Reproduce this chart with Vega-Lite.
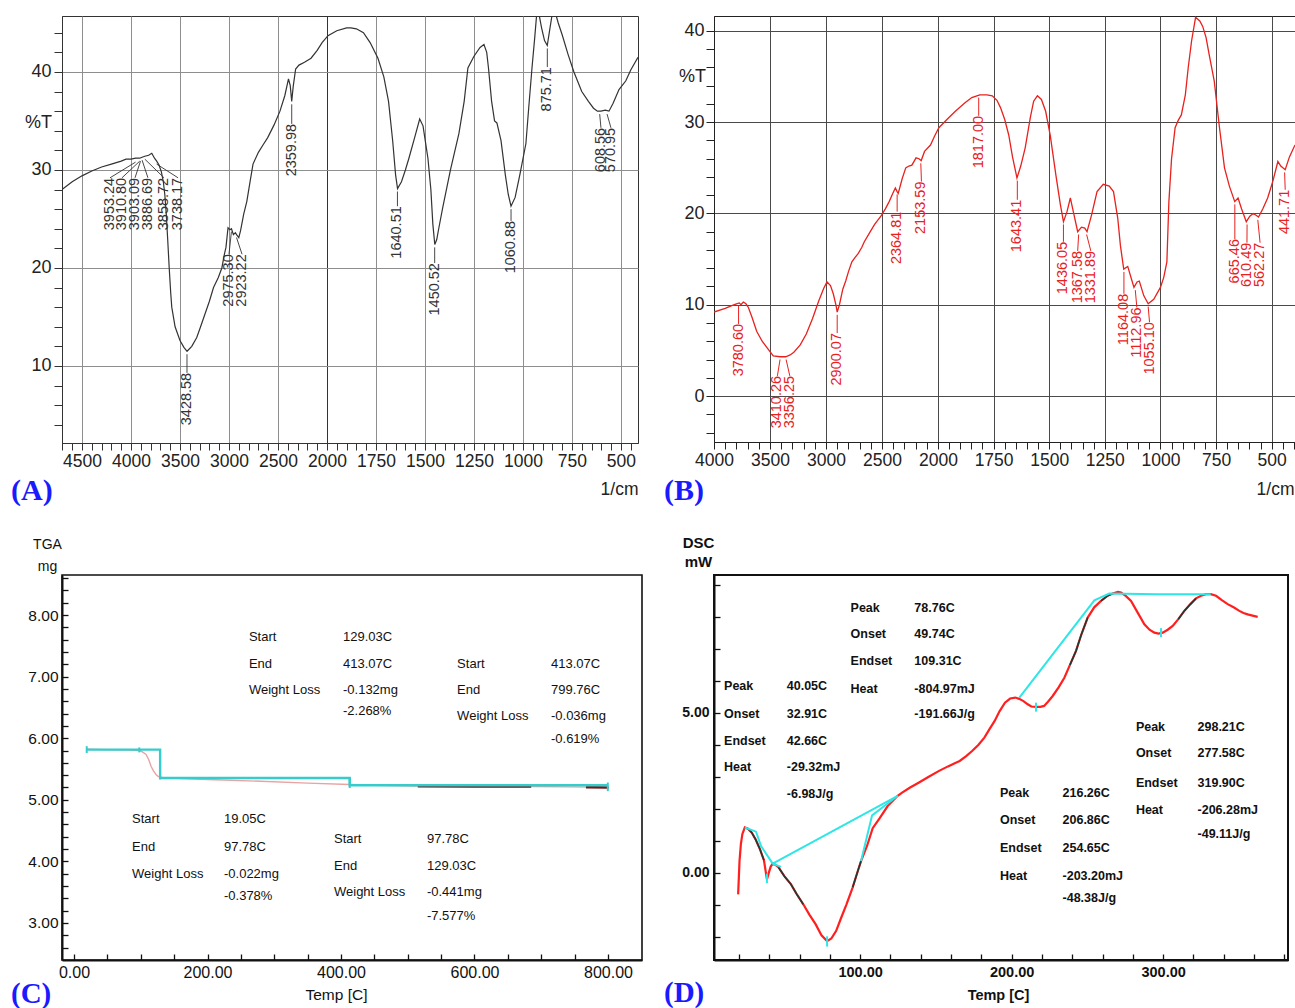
{
"$schema": "https://vega.github.io/schema/vega-lite/v6.json",
"background": "white",
"padding": {"left": 10, "top": 15, "right": 0, "bottom": 0},
"columns": 2,
"spacing": {"row": 132, "column": 72},
"bounds": "flush",
"config": {"view": {"stroke": "#222"}, "axis": {"domainColor": "#222", "tickColor": "#222", "labelColor": "#111", "titleColor": "#111", "tickCount": 1000}},
"datasets": {
"A": [
{"wn":4704,"T":28.0},{"wn":4600,"T":28.8},{"wn":4500,"T":29.4},{"wn":4400,"T":29.9},{"wn":4300,"T":30.3},{"wn":4200,"T":30.6},{"wn":4100,"T":30.9},{"wn":4051,"T":31.1},{"wn":4000,"T":31.1},{"wn":3953,"T":31.2},{"wn":3911,"T":31.2},{"wn":3887,"T":31.3},{"wn":3859,"T":31.4},{"wn":3820,"T":31.5},{"wn":3788,"T":31.7},{"wn":3760,"T":31.2},{"wn":3738,"T":30.9},{"wn":3714,"T":30.5},{"wn":3690,"T":29.8},{"wn":3670,"T":28.8},{"wn":3655,"T":27.5},{"wn":3640,"T":25.5},{"wn":3626,"T":23.0},{"wn":3610,"T":20.0},{"wn":3595,"T":17.5},{"wn":3584,"T":16.0},{"wn":3550,"T":14.0},{"wn":3500,"T":12.6},{"wn":3460,"T":11.9},{"wn":3428,"T":11.5},{"wn":3380,"T":12.0},{"wn":3329,"T":12.9},{"wn":3290,"T":14.0},{"wn":3245,"T":15.3},{"wn":3200,"T":16.6},{"wn":3158,"T":18.0},{"wn":3110,"T":19.0},{"wn":3073,"T":20.0},{"wn":3045,"T":21.5},{"wn":3031,"T":22.1},{"wn":3010,"T":24.1},{"wn":2990,"T":23.9},{"wn":2975,"T":24.0},{"wn":2955,"T":23.4},{"wn":2935,"T":23.6},{"wn":2923,"T":23.4},{"wn":2900,"T":23.1},{"wn":2882,"T":23.8},{"wn":2850,"T":25.5},{"wn":2818,"T":26.8},{"wn":2790,"T":28.5},{"wn":2755,"T":30.6},{"wn":2700,"T":31.8},{"wn":2650,"T":32.6},{"wn":2605,"T":33.3},{"wn":2540,"T":34.6},{"wn":2480,"T":36.0},{"wn":2430,"T":37.6},{"wn":2393,"T":39.3},{"wn":2375,"T":38.6},{"wn":2360,"T":37.0},{"wn":2345,"T":38.5},{"wn":2320,"T":40.3},{"wn":2286,"T":40.7},{"wn":2230,"T":41.0},{"wn":2163,"T":41.4},{"wn":2100,"T":42.2},{"wn":2050,"T":43.0},{"wn":1995,"T":43.7},{"wn":1950,"T":44.2},{"wn":1900,"T":44.5},{"wn":1878,"T":44.5},{"wn":1850,"T":44.4},{"wn":1814,"T":44.0},{"wn":1780,"T":43.0},{"wn":1740,"T":41.4},{"wn":1710,"T":39.5},{"wn":1686,"T":37.0},{"wn":1665,"T":33.0},{"wn":1650,"T":29.5},{"wn":1640,"T":28.1},{"wn":1620,"T":28.8},{"wn":1600,"T":30.0},{"wn":1582,"T":31.2},{"wn":1550,"T":33.5},{"wn":1527,"T":35.2},{"wn":1510,"T":34.5},{"wn":1495,"T":32.5},{"wn":1485,"T":31.2},{"wn":1470,"T":28.0},{"wn":1460,"T":24.5},{"wn":1450,"T":22.4},{"wn":1440,"T":22.9},{"wn":1430,"T":24.0},{"wn":1410,"T":26.1},{"wn":1370,"T":30.0},{"wn":1327,"T":33.7},{"wn":1300,"T":37.0},{"wn":1281,"T":40.4},{"wn":1250,"T":41.6},{"wn":1219,"T":42.5},{"wn":1199,"T":42.8},{"wn":1185,"T":42.0},{"wn":1176,"T":40.4},{"wn":1160,"T":37.0},{"wn":1145,"T":35.0},{"wn":1133,"T":34.8},{"wn":1112,"T":33.0},{"wn":1090,"T":29.5},{"wn":1075,"T":27.5},{"wn":1061,"T":26.3},{"wn":1040,"T":27.2},{"wn":1015,"T":29.6},{"wn":985,"T":32.7},{"wn":970,"T":36.5},{"wn":954,"T":40.4},{"wn":940,"T":43.5},{"wn":930,"T":45.9},{"wn":921,"T":46.2},{"wn":905,"T":44.5},{"wn":890,"T":43.2},{"wn":876,"T":42.7},{"wn":862,"T":44.5},{"wn":850,"T":46.0},{"wn":837,"T":46.2},{"wn":820,"T":45.0},{"wn":800,"T":43.8},{"wn":770,"T":41.8},{"wn":740,"T":40.0},{"wn":700,"T":38.0},{"wn":666,"T":37.0},{"wn":640,"T":36.3},{"wn":620,"T":36.0},{"wn":602,"T":36.0},{"wn":580,"T":36.1},{"wn":561,"T":36.0},{"wn":540,"T":36.8},{"wn":510,"T":38.2},{"wn":475,"T":39.1},{"wn":450,"T":40.2},{"wn":413,"T":41.5}
],
"Alab": [
{"wn":3953.24,"lx":4214,"tc":30.8,"ty":29.2,"label":"3953.24"},
{"wn":3910.80,"lx":4092,"tc":30.9,"ty":29.2,"label":"3910.80"},
{"wn":3903.09,"lx":3959,"tc":30.9,"ty":29.2,"label":"3903.09"},
{"wn":3886.69,"lx":3827,"tc":31.0,"ty":29.2,"label":"3886.69"},
{"wn":3858.72,"lx":3663,"tc":31.1,"ty":29.2,"label":"3858.72"},
{"wn":3738.17,"lx":3520,"tc":30.6,"ty":29.2,"label":"3738.17"},
{"wn":3428.58,"lx":3428.58,"tc":11.2,"ty":9.3,"label":"3428.58"},
{"wn":2975.30,"lx":3000,"tc":23.7,"ty":21.4,"label":"2975.30"},
{"wn":2923.22,"lx":2867,"tc":23.1,"ty":21.4,"label":"2923.22"},
{"wn":2359.98,"lx":2359.98,"tc":36.7,"ty":34.7,"label":"2359.98"},
{"wn":1640.51,"lx":1640.51,"tc":27.8,"ty":26.3,"label":"1640.51"},
{"wn":1450.52,"lx":1450.52,"tc":22.1,"ty":20.5,"label":"1450.52"},
{"wn":1060.88,"lx":1060.88,"tc":26.0,"ty":24.8,"label":"1060.88"},
{"wn":875.71,"lx":875.71,"tc":42.4,"ty":40.5,"label":"875.71"},
{"wn":608.56,"lx":602,"tc":35.7,"ty":34.3,"label":"608.56"},
{"wn":570.95,"lx":551,"tc":35.7,"ty":34.3,"label":"570.95"}
],
"B": [
{"wn":4000,"T":9.2},{"wn":3900,"T":9.6},{"wn":3841,"T":9.9},{"wn":3800,"T":10.1},{"wn":3774,"T":10.2},{"wn":3760,"T":10.0},{"wn":3738,"T":10.3},{"wn":3715,"T":10.1},{"wn":3693,"T":9.7},{"wn":3660,"T":8.6},{"wn":3619,"T":7.1},{"wn":3570,"T":6.0},{"wn":3527,"T":5.3},{"wn":3471,"T":4.4},{"wn":3410,"T":4.3},{"wn":3360,"T":4.3},{"wn":3320,"T":4.5},{"wn":3287,"T":4.8},{"wn":3230,"T":5.6},{"wn":3176,"T":6.8},{"wn":3120,"T":8.5},{"wn":3065,"T":10.4},{"wn":3020,"T":11.8},{"wn":2991,"T":12.5},{"wn":2960,"T":12.1},{"wn":2935,"T":11.2},{"wn":2910,"T":9.9},{"wn":2900,"T":9.2},{"wn":2880,"T":10.0},{"wn":2850,"T":11.7},{"wn":2824,"T":12.6},{"wn":2800,"T":13.6},{"wn":2769,"T":14.7},{"wn":2740,"T":15.2},{"wn":2713,"T":15.6},{"wn":2680,"T":16.3},{"wn":2658,"T":16.9},{"wn":2610,"T":17.9},{"wn":2566,"T":18.8},{"wn":2510,"T":19.7},{"wn":2470,"T":20.5},{"wn":2436,"T":21.3},{"wn":2400,"T":22.3},{"wn":2381,"T":22.8},{"wn":2365,"T":22.4},{"wn":2355,"T":22.2},{"wn":2320,"T":23.8},{"wn":2288,"T":25.0},{"wn":2260,"T":25.2},{"wn":2233,"T":25.3},{"wn":2196,"T":26.1},{"wn":2170,"T":26.0},{"wn":2150,"T":25.8},{"wn":2120,"T":26.8},{"wn":2067,"T":27.5},{"wn":2030,"T":28.5},{"wn":1996,"T":29.4},{"wn":1960,"T":30.3},{"wn":1922,"T":31.2},{"wn":1880,"T":32.1},{"wn":1848,"T":32.7},{"wn":1812,"T":33.0},{"wn":1780,"T":33.0},{"wn":1756,"T":32.9},{"wn":1735,"T":32.4},{"wn":1719,"T":31.6},{"wn":1700,"T":30.3},{"wn":1682,"T":28.6},{"wn":1665,"T":26.2},{"wn":1645,"T":23.9},{"wn":1628,"T":25.2},{"wn":1608,"T":27.2},{"wn":1585,"T":30.5},{"wn":1570,"T":32.3},{"wn":1553,"T":32.9},{"wn":1535,"T":32.5},{"wn":1516,"T":31.2},{"wn":1495,"T":28.5},{"wn":1470,"T":24.2},{"wn":1450,"T":21.0},{"wn":1436,"T":19.1},{"wn":1420,"T":20.2},{"wn":1405,"T":21.7},{"wn":1390,"T":20.0},{"wn":1372,"T":18.0},{"wn":1355,"T":18.5},{"wn":1340,"T":18.4},{"wn":1330,"T":18.0},{"wn":1310,"T":19.8},{"wn":1285,"T":22.4},{"wn":1257,"T":23.2},{"wn":1230,"T":23.0},{"wn":1211,"T":22.4},{"wn":1192,"T":19.5},{"wn":1180,"T":16.5},{"wn":1165,"T":13.9},{"wn":1147,"T":14.2},{"wn":1130,"T":12.8},{"wn":1119,"T":11.9},{"wn":1105,"T":12.5},{"wn":1095,"T":12.6},{"wn":1075,"T":11.0},{"wn":1055,"T":10.1},{"wn":1030,"T":10.6},{"wn":1000,"T":11.9},{"wn":985,"T":13.0},{"wn":971,"T":14.7},{"wn":962,"T":21.3},{"wn":950,"T":26.0},{"wn":934,"T":29.4},{"wn":920,"T":30.2},{"wn":906,"T":30.8},{"wn":888,"T":33.0},{"wn":875,"T":36.0},{"wn":860,"T":38.9},{"wn":842,"T":41.5},{"wn":823,"T":41.1},{"wn":810,"T":40.5},{"wn":795,"T":39.3},{"wn":780,"T":37.3},{"wn":758,"T":34.5},{"wn":735,"T":29.5},{"wn":712,"T":25.0},{"wn":690,"T":23.0},{"wn":666,"T":21.3},{"wn":651,"T":21.7},{"wn":635,"T":20.5},{"wn":614,"T":19.1},{"wn":598,"T":19.7},{"wn":583,"T":20.0},{"wn":570,"T":19.8},{"wn":559,"T":19.6},{"wn":540,"T":20.5},{"wn":518,"T":21.7},{"wn":495,"T":23.5},{"wn":472,"T":25.7},{"wn":459,"T":25.2},{"wn":439,"T":24.8},{"wn":420,"T":26.2},{"wn":395,"T":27.5}
],
"Blab": [
{"wn":3780.60,"lx":3780.6,"tc":9.9,"ty":7.9,"label":"3780.60"},
{"wn":3410.26,"lx":3434,"tc":4.0,"ty":2.2,"label":"3410.26"},
{"wn":3356.25,"lx":3323,"tc":4.0,"ty":2.2,"label":"3356.25"},
{"wn":2900.07,"lx":2900.07,"tc":8.9,"ty":6.9,"label":"2900.07"},
{"wn":2364.81,"lx":2364.81,"tc":22.1,"ty":20.2,"label":"2364.81"},
{"wn":2153.59,"lx":2148,"tc":25.5,"ty":23.5,"label":"2153.59"},
{"wn":1817.00,"lx":1817,"tc":32.7,"ty":30.7,"label":"1817.00"},
{"wn":1643.41,"lx":1643.41,"tc":23.6,"ty":21.5,"label":"1643.41"},
{"wn":1436.05,"lx":1436.05,"tc":18.8,"ty":16.9,"label":"1436.05"},
{"wn":1367.58,"lx":1372,"tc":17.7,"ty":15.9,"label":"1367.58"},
{"wn":1331.89,"lx":1313,"tc":17.7,"ty":15.9,"label":"1331.89"},
{"wn":1164.08,"lx":1164.08,"tc":13.6,"ty":11.2,"label":"1164.08"},
{"wn":1112.96,"lx":1106,"tc":11.6,"ty":9.7,"label":"1112.96"},
{"wn":1055.10,"lx":1049,"tc":9.8,"ty":8.1,"label":"1055.10"},
{"wn":665.46,"lx":665.46,"tc":21.0,"ty":17.2,"label":"665.46"},
{"wn":610.49,"lx":611,"tc":18.8,"ty":16.8,"label":"610.49"},
{"wn":562.27,"lx":552,"tc":19.3,"ty":16.8,"label":"562.27"},
{"wn":441.71,"lx":439,"tc":24.5,"ty":22.6,"label":"441.71"}
],
"C": [
{"t":19.05,"m":5.82},{"t":50,"m":5.815},{"t":80,"m":5.81},{"t":97.78,"m":5.8},{"t":102,"m":5.78},{"t":107.9,"m":5.735},{"t":112,"m":5.65},{"t":115.4,"m":5.545},{"t":119,"m":5.47},{"t":122.8,"m":5.41},{"t":126,"m":5.38},{"t":129.3,"m":5.366},{"t":140,"m":5.352},{"t":200,"m":5.33},{"t":280,"m":5.3},{"t":350,"m":5.27},{"t":413,"m":5.247},{"t":450,"m":5.235},{"t":515,"m":5.222},{"t":600,"m":5.218},{"t":685,"m":5.215},{"t":740,"m":5.21},{"t":767,"m":5.205},{"t":800,"m":5.198}
],
"Cdark": [
{"seg":1,"t":515,"m":5.222},{"seg":1,"t":600,"m":5.218},{"seg":1,"t":685,"m":5.215},
{"seg":2,"t":767,"m":5.205},{"seg":2,"t":801,"m":5.198}
],
"Ccyan": [
{"i":1,"t":19.05,"m":5.815},{"i":2,"t":129.03,"m":5.815},{"i":3,"t":129.03,"m":5.354},{"i":4,"t":413.07,"m":5.354},{"i":5,"t":413.07,"m":5.236},{"i":6,"t":799.76,"m":5.236}
],
"Cticks": [
{"t":19.05,"m1":5.76,"m2":5.87},{"t":97.78,"m1":5.77,"m2":5.85},{"t":129.03,"m1":5.33,"m2":5.36},{"t":413.07,"m1":5.19,"m2":5.36},{"t":799.76,"m1":5.14,"m2":5.28}
],
"Ctext": [
{"t":262,"m":7.64,"text":"Start"},{"t":403,"m":7.64,"text":"129.03C"},
{"t":262,"m":7.21,"text":"End"},{"t":403,"m":7.21,"text":"413.07C"},
{"t":262,"m":6.78,"text":"Weight Loss"},{"t":403,"m":6.78,"text":"-0.132mg"},
{"t":403,"m":6.44,"text":"-2.268%"},
{"t":574,"m":7.21,"text":"Start"},{"t":714.6,"m":7.21,"text":"413.07C"},
{"t":574,"m":6.78,"text":"End"},{"t":714.6,"m":6.78,"text":"799.76C"},
{"t":574,"m":6.36,"text":"Weight Loss"},{"t":714.6,"m":6.36,"text":"-0.036mg"},
{"t":714.6,"m":5.98,"text":"-0.619%"},
{"t":87,"m":4.68,"text":"Start"},{"t":224.7,"m":4.68,"text":"19.05C"},
{"t":87,"m":4.23,"text":"End"},{"t":224.7,"m":4.23,"text":"97.78C"},
{"t":87,"m":3.79,"text":"Weight Loss"},{"t":224.7,"m":3.79,"text":"-0.022mg"},
{"t":224.7,"m":3.43,"text":"-0.378%"},
{"t":389.5,"m":4.37,"text":"Start"},{"t":528.8,"m":4.37,"text":"97.78C"},
{"t":389.5,"m":3.93,"text":"End"},{"t":528.8,"m":3.93,"text":"129.03C"},
{"t":389.5,"m":3.5,"text":"Weight Loss"},{"t":528.8,"m":3.5,"text":"-0.441mg"},
{"t":528.8,"m":3.12,"text":"-7.577%"}
],
"D": [
{"t":19.5,"v":-0.67},{"t":20.4,"v":0.37},{"t":21.3,"v":0.9},{"t":22.3,"v":1.22},{"t":23.9,"v":1.42},{"t":26,"v":1.38},{"t":28.5,"v":1.26},{"t":31,"v":1.05},{"t":33.9,"v":0.74},{"t":36.5,"v":0.4},{"t":38.5,"v":-0.2},{"t":40,"v":0.05},{"t":41,"v":0.2},{"t":42.3,"v":0.29},{"t":44,"v":0.26},{"t":46.2,"v":0.17},{"t":50,"v":-0.1},{"t":54.3,"v":-0.35},{"t":58,"v":-0.65},{"t":62.5,"v":-0.98},{"t":66.5,"v":-1.3},{"t":70.6,"v":-1.6},{"t":74.5,"v":-1.95},{"t":78.2,"v":-2.13},{"t":81,"v":-2.05},{"t":84.2,"v":-1.81},{"t":87.5,"v":-1.4},{"t":91,"v":-0.98},{"t":95.1,"v":-0.45},{"t":97.8,"v":-0.04},{"t":100.6,"v":0.37},{"t":104.6,"v":0.85},{"t":108.3,"v":1.4},{"t":112.7,"v":1.7},{"t":118.2,"v":2.09},{"t":124.8,"v":2.41},{"t":127.7,"v":2.51},{"t":133,"v":2.67},{"t":138.6,"v":2.82},{"t":145,"v":3.0},{"t":152.1,"v":3.19},{"t":158,"v":3.33},{"t":165.7,"v":3.5},{"t":170,"v":3.65},{"t":173.9,"v":3.81},{"t":178,"v":4.0},{"t":182,"v":4.23},{"t":185.5,"v":4.5},{"t":188.8,"v":4.75},{"t":192,"v":5.05},{"t":195.6,"v":5.32},{"t":199,"v":5.45},{"t":202.4,"v":5.48},{"t":205,"v":5.44},{"t":207.8,"v":5.37},{"t":210.6,"v":5.27},{"t":213,"v":5.2},{"t":216,"v":5.19},{"t":219,"v":5.19},{"t":221.4,"v":5.22},{"t":224,"v":5.35},{"t":227.1,"v":5.53},{"t":231,"v":5.8},{"t":234.8,"v":6.1},{"t":238.5,"v":6.5},{"t":242.5,"v":6.94},{"t":246,"v":7.45},{"t":250.2,"v":7.98},{"t":254.5,"v":8.3},{"t":259,"v":8.5},{"t":263,"v":8.65},{"t":266.7,"v":8.73},{"t":270.2,"v":8.78},{"t":272.2,"v":8.76},{"t":275.5,"v":8.65},{"t":278.8,"v":8.5},{"t":283,"v":8.15},{"t":287.6,"v":7.77},{"t":291,"v":7.6},{"t":294.2,"v":7.51},{"t":297,"v":7.48},{"t":299.7,"v":7.51},{"t":303,"v":7.6},{"t":306.3,"v":7.72},{"t":310,"v":7.93},{"t":314,"v":8.19},{"t":318,"v":8.4},{"t":321.7,"v":8.58},{"t":325,"v":8.66},{"t":328.3,"v":8.71},{"t":331.4,"v":8.71},{"t":334.9,"v":8.66},{"t":338.5,"v":8.53},{"t":342.6,"v":8.4},{"t":346.5,"v":8.3},{"t":350.3,"v":8.19},{"t":353,"v":8.12},{"t":355.8,"v":8.08},{"t":359,"v":8.04},{"t":362.4,"v":8.0}
],
"Ddark": [
{"seg":1,"t":23.9,"v":1.42},{"seg":1,"t":26,"v":1.38},{"seg":1,"t":28.5,"v":1.26},{"seg":1,"t":31,"v":1.05},{"seg":1,"t":33.9,"v":0.74},{"seg":1,"t":36.5,"v":0.4},
{"seg":2,"t":46.2,"v":0.17},{"seg":2,"t":50,"v":-0.1},{"seg":2,"t":54.3,"v":-0.35},{"seg":2,"t":58,"v":-0.65},{"seg":2,"t":62.5,"v":-0.98},
{"seg":3,"t":95.1,"v":-0.45},{"seg":3,"t":97.8,"v":-0.04},{"seg":3,"t":100.6,"v":0.37},
{"seg":4,"t":238.5,"v":6.5},{"seg":4,"t":242.5,"v":6.94},{"seg":4,"t":246,"v":7.45},{"seg":4,"t":250.2,"v":7.98},
{"seg":5,"t":259,"v":8.5},{"seg":5,"t":263,"v":8.65},{"seg":5,"t":266.7,"v":8.73},
{"seg":6,"t":310,"v":7.93},{"seg":6,"t":314,"v":8.19},{"seg":6,"t":318,"v":8.4},{"seg":6,"t":321.7,"v":8.58}
],
"Dcyan": [
{"seg":1,"i":1,"t":23.9,"v":1.42},{"seg":1,"i":2,"t":31.3,"v":1.29},{"seg":1,"i":3,"t":34.6,"v":0.84},{"seg":1,"i":4,"t":42.3,"v":0.29},{"seg":1,"i":5,"t":47.8,"v":0.19},
{"seg":2,"i":1,"t":42.3,"v":0.29},{"seg":2,"i":2,"t":124.8,"v":2.41},
{"seg":3,"i":1,"t":100.6,"v":0.37},{"seg":3,"i":2,"t":107.9,"v":1.8},{"seg":3,"i":3,"t":124.8,"v":2.41},
{"seg":4,"i":1,"t":205.1,"v":5.48},{"seg":4,"i":2,"t":254.6,"v":8.52},{"seg":4,"i":3,"t":264.5,"v":8.73},{"seg":4,"i":4,"t":296.4,"v":8.71},{"seg":4,"i":5,"t":331.4,"v":8.71}
],
"Dticks": [
{"t":38.5,"v1":-0.32,"v2":-0.02},{"t":78.2,"v1":-2.3,"v2":-1.98},{"t":216.1,"v1":5.04,"v2":5.32},{"t":298.6,"v1":7.37,"v2":7.65}
],
"Dtext": [
{"t":93.7,"v":8.28,"text":"Peak"},{"t":135.8,"v":8.28,"text":"78.76C"},
{"t":93.7,"v":7.47,"text":"Onset"},{"t":135.8,"v":7.47,"text":"49.74C"},
{"t":93.7,"v":6.63,"text":"Endset"},{"t":135.8,"v":6.63,"text":"109.31C"},
{"t":93.7,"v":5.75,"text":"Heat"},{"t":135.8,"v":5.75,"text":"-804.97mJ"},
{"t":135.8,"v":4.97,"text":"-191.66J/g"},
{"t":10.2,"v":5.84,"text":"Peak"},{"t":51.6,"v":5.84,"text":"40.05C"},
{"t":10.2,"v":4.97,"text":"Onset"},{"t":51.6,"v":4.97,"text":"32.91C"},
{"t":10.2,"v":4.13,"text":"Endset"},{"t":51.6,"v":4.13,"text":"42.66C"},
{"t":10.2,"v":3.31,"text":"Heat"},{"t":51.6,"v":3.31,"text":"-29.32mJ"},
{"t":51.6,"v":2.47,"text":"-6.98J/g"},
{"t":192.3,"v":2.5,"text":"Peak"},{"t":233.6,"v":2.5,"text":"216.26C"},
{"t":192.3,"v":1.66,"text":"Onset"},{"t":233.6,"v":1.66,"text":"206.86C"},
{"t":192.3,"v":0.78,"text":"Endset"},{"t":233.6,"v":0.78,"text":"254.65C"},
{"t":192.3,"v":-0.09,"text":"Heat"},{"t":233.6,"v":-0.09,"text":"-203.20mJ"},
{"t":233.6,"v":-0.78,"text":"-48.38J/g"},
{"t":282,"v":4.56,"text":"Peak"},{"t":322.7,"v":4.56,"text":"298.21C"},
{"t":282,"v":3.75,"text":"Onset"},{"t":322.7,"v":3.75,"text":"277.58C"},
{"t":282,"v":2.82,"text":"Endset"},{"t":322.7,"v":2.82,"text":"319.90C"},
{"t":282,"v":1.97,"text":"Heat"},{"t":322.7,"v":1.97,"text":"-206.28mJ"},
{"t":322.7,"v":1.22,"text":"-49.11J/g"}
]
},
"concat": [
{
"width": 576, "height": 427,
"view": {"stroke": "#333", "strokeWidth": 1},
"title": {"text": "(A)", "orient": "bottom", "anchor": "start", "frame": "group", "dx": -51, "offset": 2, "baseline": "alphabetic", "font": "Liberation Serif", "fontSize": 30, "fontWeight": "bold", "color": "#1a1aff"},
"layer": [
{"data": {"name": "A"}, "mark": {"type": "line", "color": "#333", "strokeWidth": 1.2, "clip": true},
 "encoding": {
  "x": {"field": "wn", "type": "quantitative",
   "scale": {"domain": [4704, 2000, 413], "range": [0, 265, 576], "nice": false, "zero": false},
   "axis": {"values": [4700,4600,4500,4400,4300,4200,4100,4000,3900,3800,3700,3600,3500,3400,3300,3200,3100,3000,2900,2800,2700,2600,2500,2400,2300,2200,2100,2000,1950,1900,1850,1800,1750,1700,1650,1600,1550,1500,1450,1400,1350,1300,1250,1200,1150,1100,1050,1000,950,900,850,800,750,700,650,600,550,500,450],
    "tickCount": 1000, "format": "d",
    "labelExpr": "indexof([4500,4000,3500,3000,2500,2000,1750,1500,1250,1000,750,500], datum.value) >= 0 ? datum.label : ''",
    "grid": true,
    "gridColor": {"condition": {"test": "datum.value == 2000", "value": "#333"}, "value": "#8e8e8e"},
    "gridOpacity": {"condition": {"test": "indexof([4500,4000,3500,3000,2500,2000,1750,1500,1250,1000,750,500], datum.value) >= 0", "value": 1}, "value": 0},
    "tickSize": 7, "tickColor": "#333", "domainColor": "#333",
    "labelFont": "Liberation Sans", "labelFontSize": 17.5, "labelColor": "#222", "labelPadding": 2, "labelOverlap": false, "labelFlush": false,
    "title": "1/cm", "titleFont": "Liberation Sans", "titleFontSize": 17.5, "titleFontWeight": "normal", "titleColor": "#222",
    "titleAnchor": "end", "titleAlign": "right", "titleBaseline": "middle", "titleX": 576, "titleY": 46}},
  "y": {"field": "T", "type": "quantitative",
   "scale": {"domain": [2.14, 45.71], "nice": false, "zero": false},
   "axis": {"values": [4,6,8,10,12,14,16,18,20,22,24,26,28,30,32,34,36,38,40,42,44],
    "tickCount": 1000, "format": "d",
    "labelExpr": "datum.value % 10 == 0 ? datum.label : ''",
    "grid": true, "gridColor": "#8e8e8e",
    "gridOpacity": {"condition": {"test": "datum.value % 10 == 0", "value": 1}, "value": 0},
    "tickSize": 8, "tickColor": "#333", "domainColor": "#333",
    "labelFont": "Liberation Sans", "labelFontSize": 18, "labelColor": "#222", "labelPadding": 3, "labelOverlap": false,
    "title": "%T", "titleAngle": 0, "titleAlign": "center", "titleBaseline": "middle", "titleX": -24, "titleY": 106,
    "titleFont": "Liberation Sans", "titleFontSize": 18, "titleFontWeight": "normal", "titleColor": "#222"}}
 }},
{"data": {"name": "Alab"}, "mark": {"type": "rule", "color": "#333", "strokeWidth": 0.9},
 "encoding": {"x": {"field": "wn", "type": "quantitative"}, "x2": {"field": "lx"}, "y": {"field": "tc", "type": "quantitative"}, "y2": {"field": "ty"}}},
{"data": {"name": "Alab"}, "mark": {"type": "text", "angle": 270, "align": "right", "baseline": "middle", "font": "Liberation Sans", "fontSize": 14.5, "color": "#333"},
 "encoding": {"x": {"field": "lx", "type": "quantitative"}, "y": {"field": "ty", "type": "quantitative"}, "text": {"field": "label"}}}
]
},
{
"width": 581, "height": 426,
"view": {"stroke": "#222", "strokeWidth": 1},
"title": {"text": "(B)", "orient": "bottom", "anchor": "start", "frame": "group", "dx": -50, "offset": 2, "baseline": "alphabetic", "font": "Liberation Serif", "fontSize": 30, "fontWeight": "bold", "color": "#1a1aff"},
"layer": [
{"data": {"name": "B"}, "mark": {"type": "line", "color": "#e8211d", "strokeWidth": 1.3, "clip": true},
 "encoding": {
  "x": {"field": "wn", "type": "quantitative",
   "scale": {"domain": [4000, 2000, 395], "range": [0, 224, 581], "nice": false, "zero": false},
   "axis": {"values": [4000,3900,3800,3700,3600,3500,3400,3300,3200,3100,3000,2900,2800,2700,2600,2500,2400,2300,2200,2100,2000,1950,1900,1850,1800,1750,1700,1650,1600,1550,1500,1450,1400,1350,1300,1250,1200,1150,1100,1050,1000,950,900,850,800,750,700,650,600,550,500,450,400],
    "tickCount": 1000, "format": "d",
    "labelExpr": "indexof([4000,3500,3000,2500,2000,1750,1500,1250,1000,750,500], datum.value) >= 0 ? datum.label : ''",
    "grid": true, "gridColor": "#4a4a4a",
    "gridOpacity": {"condition": {"test": "indexof([4000,3500,3000,2500,2000,1750,1500,1250,1000,750,500], datum.value) >= 0", "value": 1}, "value": 0},
    "tickSize": 7, "tickColor": "#222", "domainColor": "#222",
    "labelFont": "Liberation Sans", "labelFontSize": 17.5, "labelColor": "#222", "labelPadding": 2, "labelOverlap": false, "labelFlush": false,
    "title": "1/cm", "titleFont": "Liberation Sans", "titleFontSize": 17.5, "titleFontWeight": "normal", "titleColor": "#222",
    "titleAnchor": "end", "titleAlign": "right", "titleBaseline": "middle", "titleX": 580, "titleY": 47}},
  "y": {"field": "T", "type": "quantitative",
   "scale": {"domain": [-5.04, 41.64], "nice": false, "zero": false},
   "axis": {"values": [-4,-2,0,2,4,6,8,10,12,14,16,18,20,22,24,26,28,30,32,34,36,38,40],
    "tickCount": 1000, "format": "d",
    "labelExpr": "datum.value % 10 == 0 ? datum.label : ''",
    "grid": true, "gridColor": "#4a4a4a",
    "gridOpacity": {"condition": {"test": "datum.value % 10 == 0", "value": 1}, "value": 0},
    "tickSize": 8, "tickColor": "#222", "domainColor": "#222",
    "labelFont": "Liberation Sans", "labelFontSize": 18, "labelColor": "#222", "labelPadding": 2, "labelOverlap": false,
    "title": "%T", "titleAngle": 0, "titleAlign": "center", "titleBaseline": "middle", "titleX": -22, "titleY": 60,
    "titleFont": "Liberation Sans", "titleFontSize": 18, "titleFontWeight": "normal", "titleColor": "#222"}}
 }},
{"data": {"name": "Blab"}, "mark": {"type": "rule", "color": "#e8211d", "strokeWidth": 1},
 "encoding": {"x": {"field": "wn", "type": "quantitative"}, "x2": {"field": "lx"}, "y": {"field": "tc", "type": "quantitative"}, "y2": {"field": "ty"}}},
{"data": {"name": "Blab"}, "mark": {"type": "text", "angle": 270, "align": "right", "baseline": "middle", "font": "Liberation Sans", "fontSize": 14.5, "color": "#e8211d"},
 "encoding": {"x": {"field": "lx", "type": "quantitative"}, "y": {"field": "ty", "type": "quantitative"}, "text": {"field": "label"}}}
]
},
{
"width": 580, "height": 385,
"view": {"stroke": "#111", "strokeWidth": 1.6},
"title": {"text": "(C)", "orient": "bottom", "anchor": "start", "frame": "group", "dx": -51, "offset": 0, "baseline": "alphabetic", "font": "Liberation Serif", "fontSize": 29, "fontWeight": "bold", "color": "#1a1aff"},
"layer": [
{"data": {"name": "C"}, "mark": {"type": "line", "color": "#e8a3a3", "strokeWidth": 1.4},
 "encoding": {
  "x": {"field": "t", "type": "quantitative",
   "scale": {"domain": [-18, 851], "nice": false, "zero": false},
   "axis": {"values": [0,50,100,150,200,250,300,350,400,450,500,550,600,650,700,750,800],
    "tickCount": 1000, "format": ".2f", "labelExpr": "datum.value % 200 == 0 ? datum.label : ''",
    "grid": false, "tickSize": -6, "tickWidth": 1.3, "tickColor": "#111", "domainColor": "#111", "domainWidth": 2,
    "labelFont": "Liberation Sans", "labelFontSize": 16, "labelColor": "#111", "labelPadding": 10, "labelOverlap": false, "labelFlush": false,
    "title": "Temp  [C]", "titleFont": "Liberation Sans", "titleFontSize": 15.5, "titleFontWeight": "normal", "titleColor": "#111",
    "titleAnchor": "start", "titleAlign": "center", "titleBaseline": "middle", "titleX": 274, "titleY": 34}},
  "y": {"field": "m", "type": "quantitative",
   "scale": {"domain": [2.398, 8.65], "nice": false, "zero": false},
   "axis": {"values": [2.6,2.8,3,3.2,3.4,3.6,3.8,4,4.2,4.4,4.6,4.8,5,5.2,5.4,5.6,5.8,6,6.2,6.4,6.6,6.8,7,7.2,7.4,7.6,7.8,8,8.2,8.4,8.6],
    "tickCount": 1000, "format": ".2f", "labelExpr": "datum.value % 1 == 0 ? datum.label : ''",
    "grid": false, "tickSize": -6, "tickWidth": 1.3, "tickColor": "#111", "domainColor": "#111", "domainWidth": 2,
    "labelFont": "Liberation Sans", "labelFontSize": 15.5, "labelColor": "#111", "labelPadding": 10, "labelOverlap": false,
    "title": ["TGA", "mg"], "titleAngle": 0, "titleAlign": "center", "titleBaseline": "middle", "titleLineHeight": 22, "titleX": -15, "titleY": -31,
    "titleFont": "Liberation Sans", "titleFontSize": 14, "titleFontWeight": "normal", "titleColor": "#111"}}
 }},
{"data": {"name": "Cdark"}, "mark": {"type": "line", "color": "#7b1515", "strokeWidth": 2.6},
 "encoding": {"x": {"field": "t", "type": "quantitative"}, "y": {"field": "m", "type": "quantitative"}, "detail": {"field": "seg"}}},
{"data": {"name": "Ccyan"}, "mark": {"type": "line", "color": "#36cccc", "strokeWidth": 2.4},
 "encoding": {"x": {"field": "t", "type": "quantitative"}, "y": {"field": "m", "type": "quantitative"}, "order": {"field": "i"}}},
{"data": {"name": "Cticks"}, "mark": {"type": "rule", "color": "#36cccc", "strokeWidth": 2},
 "encoding": {"x": {"field": "t", "type": "quantitative"}, "y": {"field": "m1", "type": "quantitative"}, "y2": {"field": "m2"}}},
{"data": {"name": "Ctext"}, "mark": {"type": "text", "align": "left", "baseline": "middle", "font": "Liberation Sans", "fontSize": 13, "color": "#111"},
 "encoding": {"x": {"field": "t", "type": "quantitative"}, "y": {"field": "m", "type": "quantitative"}, "text": {"field": "text"}}}
]
},
{
"width": 574, "height": 385,
"view": {"stroke": "#111", "strokeWidth": 2},
"title": {"text": "(D)", "orient": "bottom", "anchor": "start", "frame": "group", "dx": -50, "offset": 0, "baseline": "alphabetic", "font": "Liberation Serif", "fontSize": 29, "fontWeight": "bold", "color": "#1a1aff"},
"layer": [
{"data": {"name": "D"}, "mark": {"type": "line", "color": "#ff1f1f", "strokeWidth": 2.2},
 "encoding": {
  "x": {"field": "t", "type": "quantitative",
   "scale": {"domain": [3.56, 382.4], "nice": false, "zero": false},
   "axis": {"values": [20,40,60,80,100,120,140,160,180,200,220,240,260,280,300,320,340,360,380],
    "tickCount": 1000, "format": ".2f", "labelExpr": "datum.value % 100 == 0 ? datum.label : ''",
    "grid": false, "tickSize": -6, "tickWidth": 1.3, "tickColor": "#111", "domainColor": "#111", "domainWidth": 2,
    "labelFont": "Liberation Sans", "labelFontSize": 14.5, "labelFontWeight": "bold", "labelColor": "#111", "labelPadding": 11, "labelOverlap": false, "labelFlush": false,
    "title": "Temp  [C]", "titleFont": "Liberation Sans", "titleFontSize": 14.5, "titleFontWeight": "bold", "titleColor": "#111",
    "titleAnchor": "start", "titleAlign": "center", "titleBaseline": "middle", "titleX": 284, "titleY": 35}},
  "y": {"field": "v", "type": "quantitative",
   "scale": {"domain": [-2.72, 9.31], "nice": false, "zero": false},
   "axis": {"values": [-2,-1,0,1,2,3,4,5,6,7,8,9],
    "tickCount": 1000, "format": ".2f", "labelExpr": "datum.value == 0 || datum.value == 5 ? datum.label : ''",
    "grid": false, "tickSize": -6, "tickWidth": 1.3, "tickColor": "#111", "domainColor": "#111", "domainWidth": 2,
    "labelFont": "Liberation Sans", "labelFontSize": 14, "labelFontWeight": "bold", "labelColor": "#111", "labelPadding": 11, "labelOverlap": false,
    "title": ["DSC", "mW"], "titleAngle": 0, "titleAlign": "center", "titleBaseline": "middle", "titleLineHeight": 19, "titleX": -16, "titleY": -33,
    "titleFont": "Liberation Sans", "titleFontSize": 15, "titleFontWeight": "bold", "titleColor": "#111"}}
 }},
{"data": {"name": "Ddark"}, "mark": {"type": "line", "color": "#1d3b36", "strokeWidth": 1.6},
 "encoding": {"x": {"field": "t", "type": "quantitative"}, "y": {"field": "v", "type": "quantitative"}, "detail": {"field": "seg"}}},
{"data": {"name": "Dcyan"}, "mark": {"type": "line", "color": "#2ee6e6", "strokeWidth": 2},
 "encoding": {"x": {"field": "t", "type": "quantitative"}, "y": {"field": "v", "type": "quantitative"}, "detail": {"field": "seg"}, "order": {"field": "i"}}},
{"data": {"name": "Dticks"}, "mark": {"type": "rule", "color": "#2ee6e6", "strokeWidth": 2},
 "encoding": {"x": {"field": "t", "type": "quantitative"}, "y": {"field": "v1", "type": "quantitative"}, "y2": {"field": "v2"}}},
{"data": {"name": "Dtext"}, "mark": {"type": "text", "align": "left", "baseline": "middle", "font": "Liberation Sans", "fontSize": 12.5, "fontWeight": "bold", "color": "#111"},
 "encoding": {"x": {"field": "t", "type": "quantitative"}, "y": {"field": "v", "type": "quantitative"}, "text": {"field": "text"}}}
]
}
]
}
